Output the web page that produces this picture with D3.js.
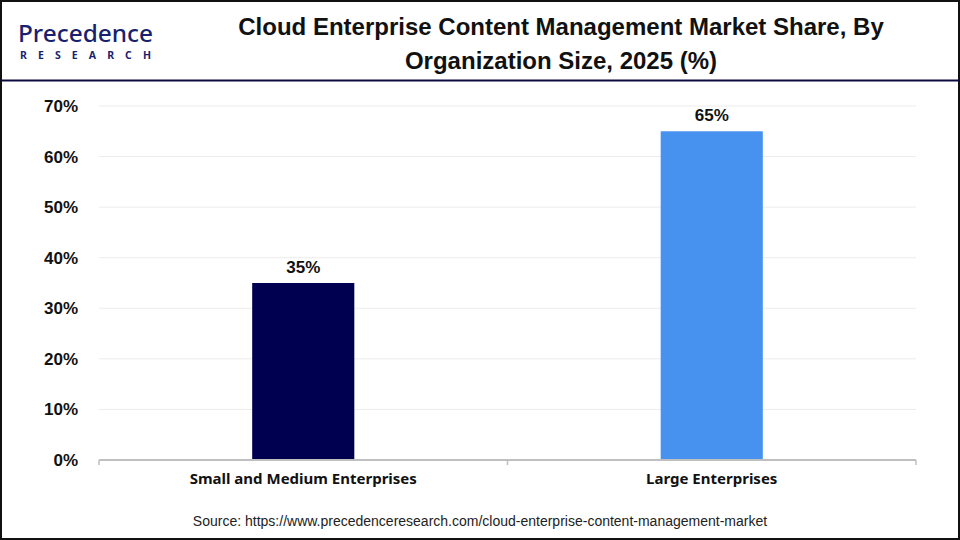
<!DOCTYPE html>
<html>
<head>
<meta charset="utf-8">
<script src="https://cdn.jsdelivr.net/npm/d3@7"></script>
<style>
  body { margin: 0; background: #fff; }
  svg { display: block; }
</style>
</head>
<body>
<div id="chart"></div>
<script>
const width = 960;
const height = 540;

// data
const categories = ["Small and Medium Enterprises", "Large Enterprises"];
const shares = [35, 65];
const barColors = ["#000050", "#4692ee"];
const yTicks = [0, 10, 20, 30, 40, 50, 60, 70];

const marginLeft = 99;
const marginRight = 44;
const plotTop = 106;
const plotBottom = 460;

var svg = d3.select("#chart").append("svg")
    .attr("width", width)
    .attr("height", height);

svg.append("rect")
    .attr("width", width)
    .attr("height", height)
    .attr("fill", "#fff");

// frame
svg.append("rect")
    .attr("x", 1)
    .attr("y", 1)
    .attr("width", width - 2)
    .attr("height", height - 2)
    .attr("fill", "none")
    .attr("stroke", "#111")
    .attr("stroke-width", 2);

// header divider
svg.append("line")
    .attr("x1", 1).attr("x2", width - 1)
    .attr("y1", 80.5).attr("y2", 80.5)
    .attr("stroke", "#0a0a40")
    .attr("stroke-width", 2);

// logo
const logo = svg.append("g");
logo.append("text")
    .attr("x", 18)
    .attr("y", 42)
    .text("Precedence")
    .style("font-family", "'Noto Sans', sans-serif")
    .style("font-size", "24px")
    .style("font-weight", "500")
    .style("fill", "#1a1f6e")
    .attr("textLength", 135)
    .attr("lengthAdjust", "spacingAndGlyphs");
logo.append("text")
    .attr("x", 20)
    .attr("y", 59)
    .text("RESEARCH")
    .style("font-family", "'Noto Sans', sans-serif")
    .style("font-size", "10.5px")
    .style("font-weight", "bold")
    .style("fill", "#1a1f6e")
    .attr("textLength", 131)
    .attr("lengthAdjust", "spacing");

// title
const title = svg.append("text")
    .attr("x", 561)
    .attr("y", 35)
    .style("font-family", "'Liberation Sans', Arial, sans-serif")
    .style("font-size", "24px")
    .style("font-weight", "bold")
    .style("text-anchor", "middle")
    .style("fill", "#111");
title.append("tspan").attr("x", 561).text("Cloud Enterprise Content Management Market Share, By");
title.append("tspan").attr("x", 561).attr("dy", 34).text("Organization Size, 2025 (%)");

const x = d3.scaleBand()
    .domain(categories)
    .range([marginLeft, width - marginRight])
    .paddingInner(0.75)
    .paddingOuter(0.375);

const xOuter = d3.scaleBand()
    .domain(categories)
    .range([marginLeft, width - marginRight]);

const y = d3.scaleLinear()
    .domain([0, 70])
    .range([plotBottom, plotTop]);

// gridlines
svg.append("g")
    .selectAll("line")
    .data(yTicks.slice(1))
    .enter().append("line")
    .attr("x1", marginLeft)
    .attr("x2", width - marginRight)
    .attr("y1", d => y(d))
    .attr("y2", d => y(d))
    .attr("stroke", "#ececec")
    .attr("stroke-width", 1);

// y axis labels
const yAxis = svg.append("g")
    .attr("transform", `translate(${marginLeft - 18},0)`)
    .call(d3.axisLeft(y).tickValues(yTicks).tickFormat(d => d + "%").tickSize(0));
yAxis.select(".domain").remove();
yAxis.selectAll("text")
    .style("font-family", "'Liberation Sans', Arial, sans-serif")
    .style("font-size", "17px")
    .style("font-weight", "bold")
    .style("fill", "#111");

// bars
svg.selectAll(".bar")
    .data(shares)
    .enter().append("rect")
    .attr("class", "bar")
    .attr("x", (d, i) => x(categories[i]))
    .attr("y", d => y(d))
    .attr("width", x.bandwidth())
    .attr("height", d => y(0) - y(d))
    .attr("fill", (d, i) => barColors[i]);

// value labels
svg.selectAll(".val")
    .data(shares)
    .enter().append("text")
    .attr("class", "val")
    .attr("x", (d, i) => x(categories[i]) + x.bandwidth() / 2)
    .attr("y", d => y(d) - 10)
    .text(d => d + "%")
    .style("font-family", "'Liberation Sans', Arial, sans-serif")
    .style("font-size", "17px")
    .style("font-weight", "bold")
    .style("text-anchor", "middle")
    .style("fill", "#111");

// x axis
const xAxis = svg.append("g")
    .attr("transform", `translate(0,${plotBottom})`)
    .call(d3.axisBottom(xOuter).tickSize(0).tickPadding(13));
xAxis.select(".domain")
    .attr("stroke", "#bfbfbf")
    .attr("stroke-width", 2)
    .attr("d", `M${marginLeft},0H${width - marginRight}`);
xAxis.selectAll("text")
    .style("font-family", "'Noto Sans', sans-serif")
    .style("font-size", "15px")
    .style("font-weight", "bold")
    .style("fill", "#111");

// category boundary ticks
svg.append("g")
    .selectAll("line")
    .data([categories[0], categories[1], null])
    .enter().append("line")
    .attr("x1", d => d ? xOuter(d) : width - marginRight)
    .attr("x2", d => d ? xOuter(d) : width - marginRight)
    .attr("y1", plotBottom)
    .attr("y2", plotBottom + 5)
    .attr("stroke", "#bfbfbf")
    .attr("stroke-width", 1.5);

// source
svg.append("text")
    .attr("x", 480)
    .attr("y", 526)
    .text("Source: https://www.precedenceresearch.com/cloud-enterprise-content-management-market")
    .style("font-family", "'Liberation Sans', Arial, sans-serif")
    .style("font-size", "14px")
    .style("text-anchor", "middle")
    .style("fill", "#222");
</script>
</body>
</html>
